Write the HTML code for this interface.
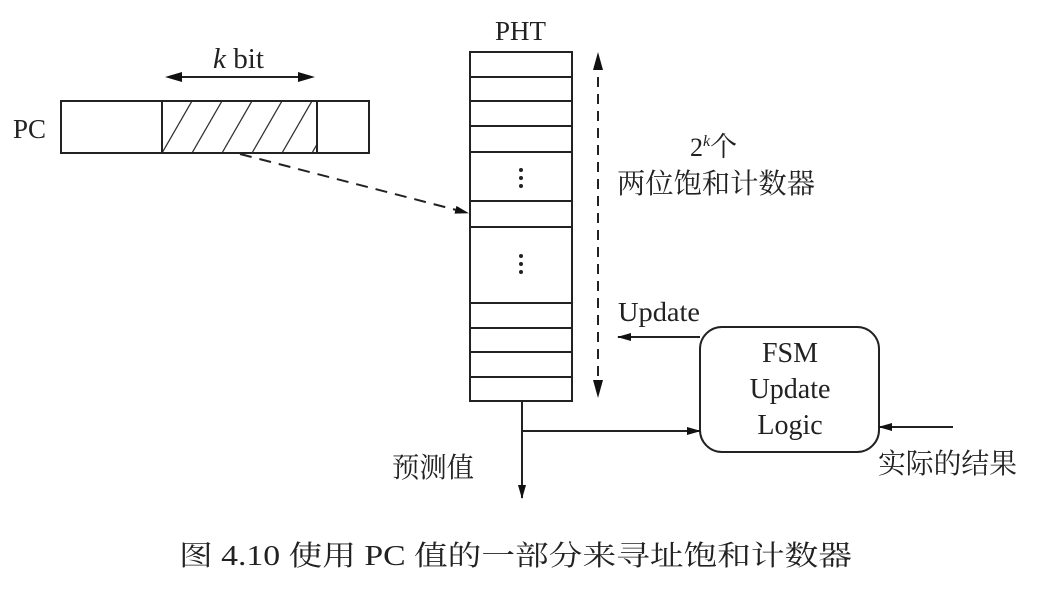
<!DOCTYPE html>
<html><head><meta charset="utf-8"><style>
body{margin:0;background:#fff;}
svg{display:block}
text{font-family:"Liberation Serif","Noto Serif CJK SC",serif;fill:#222}
</style></head><body>
<svg width="1038" height="589" viewBox="0 0 1038 589" xmlns="http://www.w3.org/2000/svg">
<defs>
<marker id="a" markerWidth="14" markerHeight="8" refX="13" refY="4" orient="auto" markerUnits="userSpaceOnUse"><path d="M0,0 L14,4 L0,8 z" fill="#111"/></marker>
<pattern id="h" width="30" height="52" patternUnits="userSpaceOnUse" patternTransform="translate(162,101)"><line x1="0" y1="52" x2="30" y2="0" stroke="#333" stroke-width="1.3"/></pattern>
</defs>
<g stroke="#222" stroke-width="2" fill="none">
<rect x="61" y="101" width="308" height="52"/>
<rect x="162" y="101" width="155" height="52" fill="url(#h)"/>
<line x1="170" y1="77" x2="310" y2="77"/>
</g>
<path d="M315,77 L298,72 L298,82z M165,77 L182,72 L182,82z" fill="#111"/>
<line x1="240" y1="154" x2="468" y2="213" stroke="#222" stroke-width="2" stroke-dasharray="12,8" marker-end="url(#a)"/>
<g stroke="#222" stroke-width="2" fill="none">
<rect x="470" y="52" width="102" height="349"/>
<path d="M470,77H572M470,101H572M470,126H572M470,152H572M470,201H572M470,227H572M470,303H572M470,328H572M470,352H572M470,377H572"/>
<line x1="598" y1="60" x2="598" y2="394" stroke-dasharray="10,7"/>
<rect x="700" y="327" width="179" height="125" rx="22"/>
<line x1="700" y1="337" x2="618" y2="337" marker-end="url(#a)"/>
<line x1="522" y1="401" x2="522" y2="498" marker-end="url(#a)"/>
<line x1="522" y1="431" x2="700" y2="431" marker-end="url(#a)"/>
<line x1="953" y1="427" x2="879" y2="427" marker-end="url(#a)"/>
</g>
<path d="M598,52 L593,70 L603,70z M598,398 L593,380 L603,380z" fill="#111"/>
<g fill="#222"><circle cx="521" cy="170" r="2"/><circle cx="521" cy="178" r="2"/><circle cx="521" cy="186" r="2"/><circle cx="521" cy="256" r="2"/><circle cx="521" cy="264" r="2"/><circle cx="521" cy="272" r="2"/></g>
<text x="13" y="138" font-size="27" textLength="33" lengthAdjust="spacingAndGlyphs">PC</text>
<text x="213" y="68" font-size="28" textLength="51" lengthAdjust="spacingAndGlyphs"><tspan font-style="italic">k</tspan> bit</text>
<text x="495" y="40" font-size="27" textLength="51" lengthAdjust="spacingAndGlyphs">PHT</text>
<text x="690" y="156" font-size="26">2<tspan font-size="16" dy="-10" font-style="italic">k</tspan><tspan dy="10" font-size="27">个</tspan></text>
<text x="617" y="193" font-size="28" textLength="198" lengthAdjust="spacingAndGlyphs">两位饱和计数器</text>
<text x="618" y="321" font-size="27" textLength="82" lengthAdjust="spacingAndGlyphs">Update</text>
<text x="790" y="362" font-size="28" text-anchor="middle">FSM</text>
<text x="790" y="398" font-size="28" text-anchor="middle">Update</text>
<text x="790" y="434" font-size="28" text-anchor="middle">Logic</text>
<text x="392" y="477" font-size="28" textLength="82" lengthAdjust="spacingAndGlyphs">预测值</text>
<text x="878" y="473" font-size="28" textLength="139" lengthAdjust="spacingAndGlyphs">实际的结果</text>
<text x="179" y="565" font-size="28" textLength="673" lengthAdjust="spacingAndGlyphs">图 4.10  使用 PC 值的一部分来寻址饱和计数器</text>
</svg>
</body></html>
